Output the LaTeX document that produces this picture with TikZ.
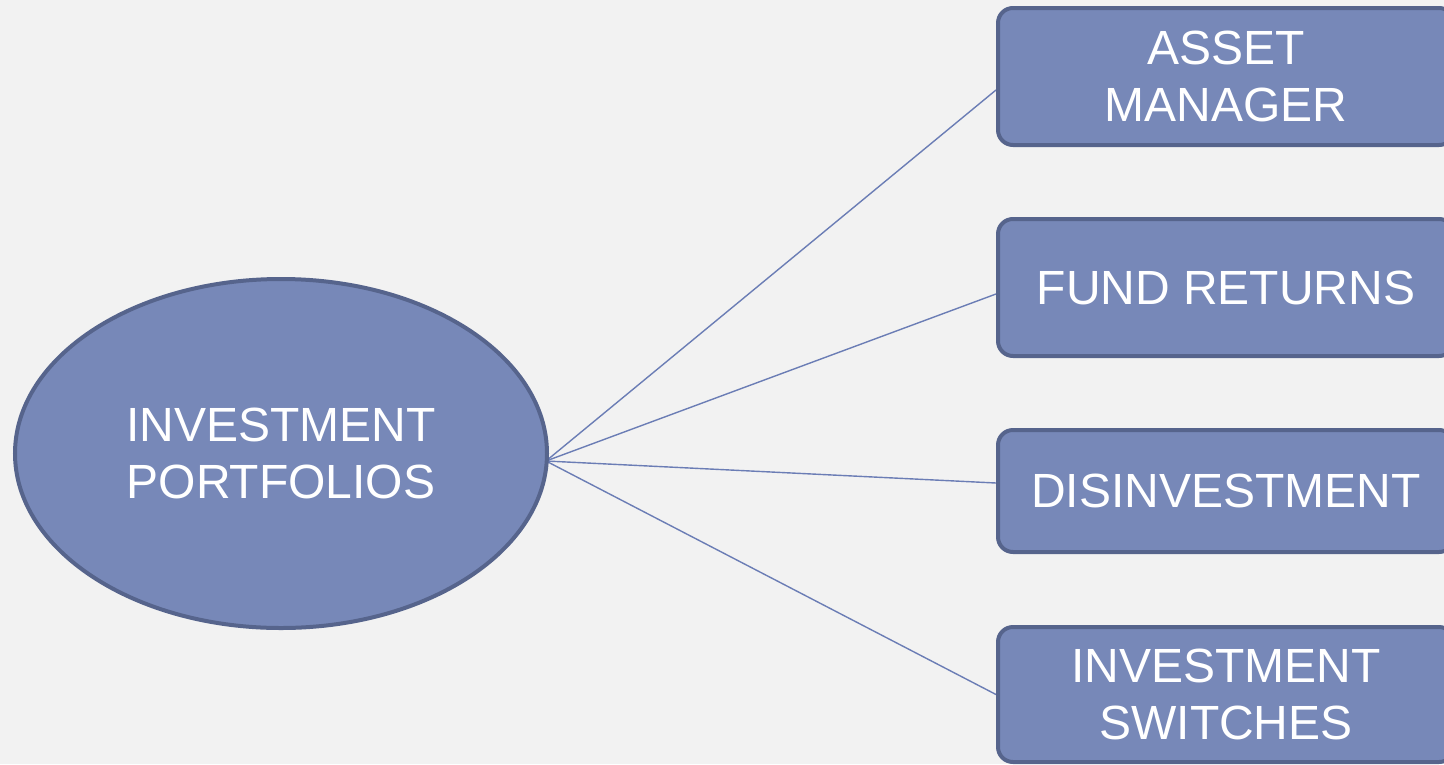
\documentclass[tikz,border=0pt]{standalone}
\usepackage{fontspec}
\setmainfont{Liberation Sans}
\usetikzlibrary{backgrounds,shapes.geometric}
\definecolor{bgc}{HTML}{F2F2F2}
\definecolor{fillc}{HTML}{7788B8}
\definecolor{edgec}{HTML}{56648C}
\definecolor{linec}{HTML}{6B7DB5}
\tikzset{
  shapebox/.style={draw=edgec, line width=4pt, fill=fillc, text=white, align=center,
    font=\fontsize{48}{57}\selectfont, inner sep=0pt},
  leafbox/.style={shapebox, rectangle, rounded corners=15pt, minimum width=456pt},
  link/.style={draw=linec, line width=1.4pt}
}
\begin{document}
\begin{tikzpicture}[x=1pt,y=-1pt]
\begin{scope}[on background layer]
\fill[bgc] (0,0) rectangle (1444,764);
\end{scope}
\useasboundingbox (0,0) rectangle (1444,764);
\clip (0,0) rectangle (1444,764);
\node[shapebox, ellipse, minimum width=532pt, minimum height=349pt] (ip) at (281,453.5) {INVESTMENT\\PORTFOLIOS};
\node[leafbox, minimum height=137pt] (b1) at (1226,76.5) {ASSET\\MANAGER};
\node[leafbox, minimum height=137pt] (b2) at (1226,287.5) {FUND RETURNS};
\node[leafbox, minimum height=122pt] (b3) at (1226,491) {DISINVESTMENT};
\node[leafbox, minimum height=135pt] (b4) at (1226,694.5) {INVESTMENT\\SWITCHES};
\coordinate (hub) at (546,461);
\begin{scope}[on background layer]
\draw[link] (hub) -- ([yshift=-13.5pt]b1.west);
\draw[link] (hub) -- ([yshift=-6.5pt]b2.west);
\draw[link] (hub) -- ([yshift=8pt]b3.west);
\draw[link] (hub) -- (b4.west);
\end{scope}
\end{tikzpicture}
\end{document}
